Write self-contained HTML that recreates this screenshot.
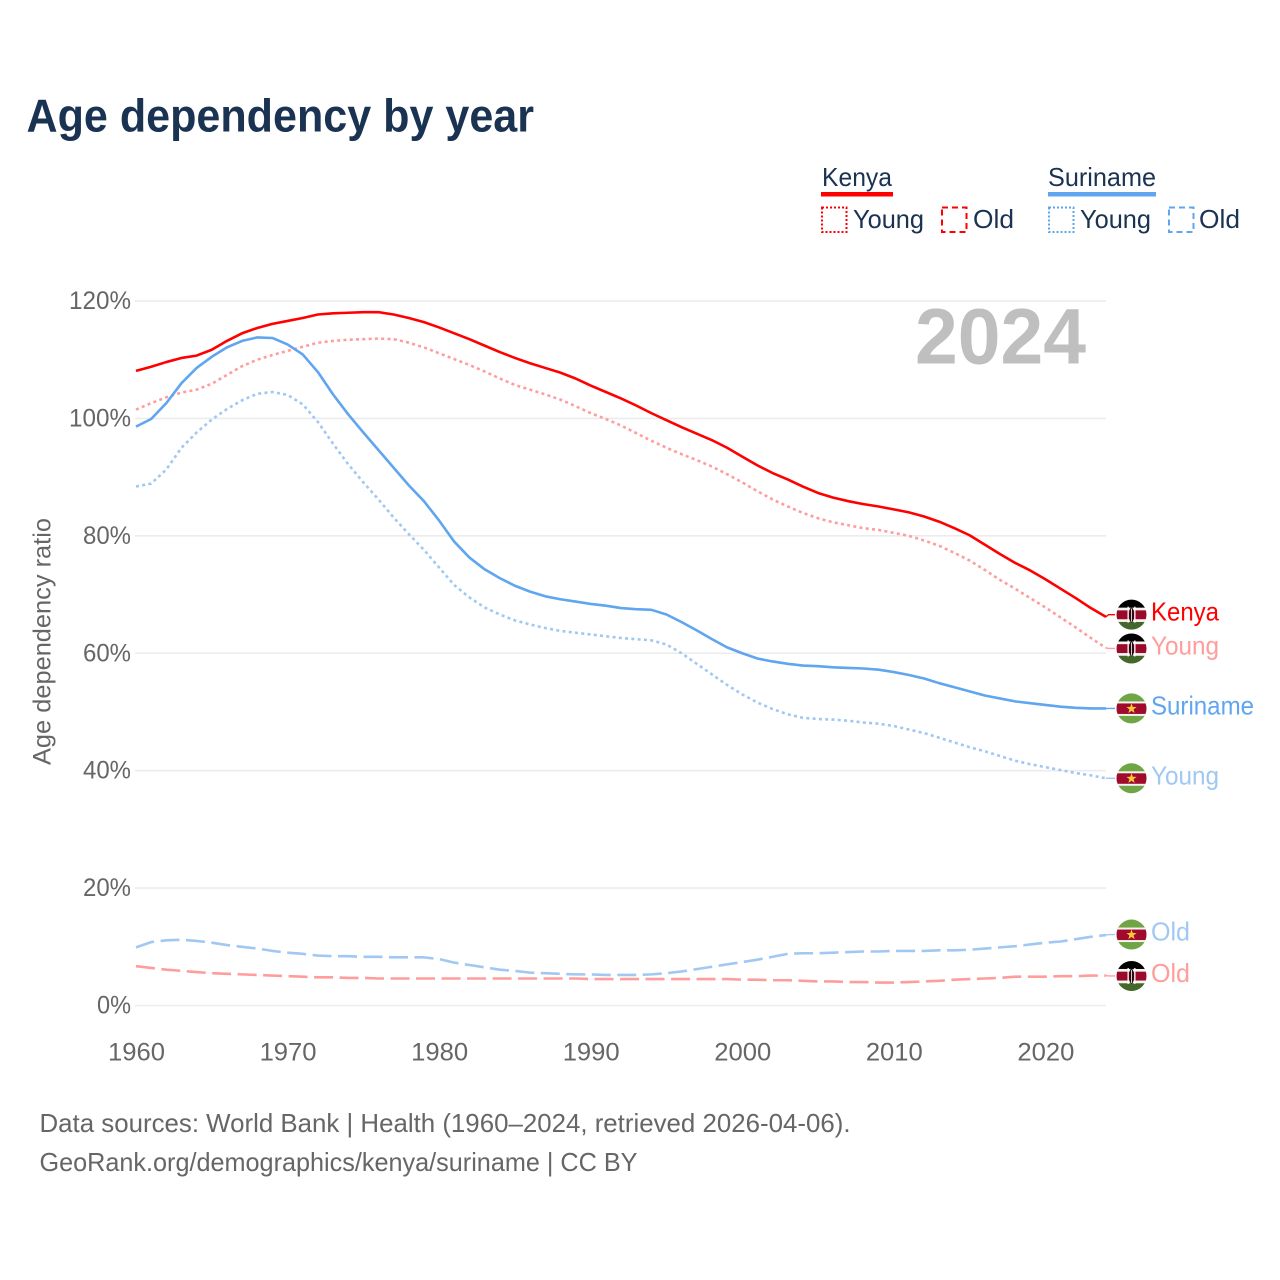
<!DOCTYPE html>
<html lang="en">
<head>
<meta charset="utf-8">
<title>Age dependency by year</title>
<style>
html,body{margin:0;padding:0;background:#fff;}
svg{display:block;font-family:"Liberation Sans",sans-serif;}
</style>
</head>
<body>
<svg id="chart" xmlns="http://www.w3.org/2000/svg" width="1280" height="1280" viewBox="0 0 1280 1280">
  <rect x="0" y="0" width="1280" height="1280" fill="#ffffff"/>
  <text x="26.5" y="131.5" font-size="46" font-weight="700" fill="#1a3352" textLength="507.5" lengthAdjust="spacingAndGlyphs">Age dependency by year</text>

  <g font-size="26" fill="#1a3352">
    <text x="822" y="186" textLength="70" lengthAdjust="spacingAndGlyphs">Kenya</text>
    <rect x="821" y="192" width="72" height="4.5" fill="#ff0000"/>
    <rect x="822" y="207.5" width="24.5" height="24.5" fill="none" stroke="#ff0000" stroke-width="2" stroke-dasharray="2 2"/>
    <text x="853" y="228" textLength="71" lengthAdjust="spacingAndGlyphs">Young</text>
    <rect x="942" y="207.5" width="24.5" height="24.5" fill="none" stroke="#ff0000" stroke-width="2" stroke-dasharray="6 4"/>
    <text x="973" y="228" textLength="41" lengthAdjust="spacingAndGlyphs">Old</text>
    <text x="1048" y="186" textLength="108" lengthAdjust="spacingAndGlyphs">Suriname</text>
    <rect x="1048" y="192" width="108" height="4.5" fill="#5fa5ef"/>
    <rect x="1049" y="207.5" width="24.5" height="24.5" fill="none" stroke="#5fa5ef" stroke-width="2" stroke-dasharray="2 2"/>
    <text x="1080" y="228" textLength="71" lengthAdjust="spacingAndGlyphs">Young</text>
    <rect x="1169" y="207.5" width="24.5" height="24.5" fill="none" stroke="#5fa5ef" stroke-width="2" stroke-dasharray="6 4"/>
    <text x="1199" y="228" textLength="41" lengthAdjust="spacingAndGlyphs">Old</text>
  </g>

  <g id="grid"></g>
  <g id="y-ticks"></g>
  <g id="x-ticks"></g>
  <text transform="translate(50.5,765) rotate(-90)" font-size="25" fill="#666666" textLength="247" lengthAdjust="spacingAndGlyphs">Age dependency ratio</text>
  <text x="915" y="363.5" font-size="79" font-weight="700" fill="#bfbfbf" textLength="171" lengthAdjust="spacingAndGlyphs">2024</text>
  <g id="series"></g>
  <g id="end-labels"></g>

  <text x="39.5" y="1132" font-size="26" fill="#666666" textLength="811" lengthAdjust="spacingAndGlyphs">Data sources: World Bank | Health (1960–2024, retrieved 2026-04-06).</text>
  <text x="39.5" y="1171" font-size="26" fill="#666666" textLength="598" lengthAdjust="spacingAndGlyphs">GeoRank.org/demographics/kenya/suriname | CC BY</text>
</svg>
<script>
const startYear = 1960;
const endYear = 2024;
const yTickValues = [0, 20, 40, 60, 80, 100, 120];
const xTickValues = [1960, 1970, 1980, 1990, 2000, 2010, 2020];

const kenyaTotal = [
  108.1,108.8,109.6,110.3,110.7,111.7,113.2,114.5,115.4,116.1,
  116.6,117.1,117.7,117.9,118.0,118.1,118.1,117.7,117.1,116.4,
  115.5,114.5,113.5,112.4,111.3,110.3,109.4,108.6,107.8,106.8,
  105.6,104.5,103.4,102.2,100.9,99.7,98.5,97.4,96.3,95.0,
  93.5,92.0,90.7,89.6,88.4,87.3,86.5,85.9,85.4,85.0,
  84.5,84.0,83.3,82.4,81.3,80.1,78.5,76.9,75.4,74.1,
  72.6,71.0,69.4,67.7,66.2
];
const kenyaYoung = [
  101.5,102.6,103.6,104.4,104.9,105.9,107.4,108.9,110.0,110.8,
  111.5,112.2,112.9,113.2,113.4,113.5,113.6,113.5,112.9,112.1,
  111.1,110.1,109.1,108.0,106.8,105.7,104.9,104.1,103.2,102.1,
  100.9,99.9,98.8,97.5,96.2,95.0,93.9,92.9,91.8,90.5,
  89.1,87.6,86.2,85.0,83.9,83.0,82.3,81.8,81.3,81.0,
  80.5,80.0,79.2,78.3,77.1,75.8,74.2,72.5,71.0,69.4,
  67.8,66.1,64.4,62.6,60.9
];
const kenyaOld = [
  6.7,6.4,6.1,5.9,5.7,5.5,5.4,5.3,5.2,5.1,
  5.0,4.9,4.8,4.8,4.7,4.7,4.6,4.6,4.6,4.6,
  4.6,4.6,4.6,4.6,4.6,4.6,4.6,4.6,4.6,4.6,
  4.5,4.5,4.5,4.5,4.5,4.5,4.5,4.5,4.5,4.5,
  4.4,4.4,4.3,4.3,4.2,4.1,4.1,4.0,4.0,3.9,
  3.9,4.0,4.1,4.2,4.4,4.5,4.6,4.7,4.9,4.9,
  4.9,5.0,5.0,5.1,5.1
];
const surinameTotal = [
  98.6,99.9,102.6,106.0,108.6,110.5,112.1,113.2,113.8,113.7,
  112.6,110.9,107.9,104.1,100.7,97.6,94.6,91.6,88.6,85.9,
  82.6,79.0,76.3,74.3,72.8,71.5,70.5,69.7,69.2,68.8,
  68.4,68.1,67.7,67.5,67.4,66.6,65.3,63.9,62.4,61.0,
  60.0,59.1,58.6,58.2,57.9,57.8,57.6,57.5,57.4,57.2,
  56.8,56.3,55.7,54.9,54.2,53.5,52.8,52.3,51.8,51.5,
  51.2,50.9,50.7,50.6,50.6
];
const surinameYoung = [
  88.4,88.9,91.3,95.0,97.6,99.8,101.6,103.1,104.2,104.5,
  104.0,102.4,99.4,95.7,92.2,89.1,86.2,83.1,80.3,77.6,
  74.6,71.6,69.5,67.8,66.6,65.6,64.9,64.3,63.8,63.5,
  63.2,62.9,62.6,62.4,62.2,61.5,60.0,58.2,56.4,54.6,
  53.0,51.6,50.5,49.6,49.0,48.8,48.7,48.5,48.2,48.0,
  47.6,47.0,46.4,45.6,44.8,44.0,43.3,42.5,41.7,41.1,
  40.6,40.1,39.6,39.2,38.7
];
const surinameOld = [
  9.9,10.8,11.1,11.2,11.0,10.7,10.3,10.0,9.7,9.3,
  9.0,8.8,8.5,8.4,8.4,8.3,8.3,8.2,8.2,8.2,
  7.9,7.3,6.9,6.5,6.1,5.9,5.6,5.5,5.4,5.3,
  5.3,5.2,5.2,5.2,5.3,5.5,5.8,6.2,6.6,7.0,
  7.4,7.8,8.3,8.8,8.9,8.9,9.0,9.1,9.2,9.2,
  9.3,9.3,9.3,9.4,9.4,9.5,9.7,9.9,10.1,10.4,
  10.7,10.9,11.3,11.7,12.0
];

const x = function (year) { return 136 + (year - startYear) * (1106 - 136) / (endYear - startYear); };
const y = function (value) { return 1005.5 - value * (1005.5 - 301) / 120; };

const NS = 'http://www.w3.org/2000/svg';
function make(tag, attrs, parent, text) {
  const el = document.createElementNS(NS, tag);
  Object.keys(attrs).forEach(function (k) { el.setAttribute(k, attrs[k]); });
  if (text !== undefined) el.textContent = text;
  parent.appendChild(el);
  return el;
}

const gridGroup = document.getElementById('grid');
const yTickGroup = document.getElementById('y-ticks');
yTickValues.forEach(function (v) {
  const line = make('line', { x1: 135, x2: 1106, y1: y(v), y2: y(v), stroke: '#ececec', 'stroke-width': 1.6 }, gridGroup);
  
  
  const label = make('text', { x: 131, y: y(v) + 8, 'font-size': 25, fill: '#666666', 'text-anchor': 'end', textLength: v === 0 ? 34 : (v >= 100 ? 62 : 48), lengthAdjust: 'spacingAndGlyphs' }, yTickGroup, v + '%');
  
  
});

const xTickGroup = document.getElementById('x-ticks');
xTickValues.forEach(function (yr) {
  const label = make('text', { x: x(yr) + 0.5, y: 1060.5, 'font-size': 25, fill: '#666666', 'text-anchor': 'middle', textLength: 57, lengthAdjust: 'spacingAndGlyphs' }, xTickGroup, String(yr));
  
  
});

const RED = '#ff0000', BLUE = '#5fa5ef', LRED = '#ff9d9d', LBLUE = '#a0c8f3';
const DOT = '3 3.3', DASH = '19 6.5';

const seriesList = [
  { id: 'kenya-old', values: kenyaOld, color: LRED, dash: DASH, flag: 'kenya', label: 'Old', dy: 0.4, w: 39 },
  { id: 'suriname-old', values: surinameOld, color: LBLUE, dash: DASH, flag: 'suriname', label: 'Old', dy: -0.5, w: 39 },
  { id: 'suriname-young', values: surinameYoung, color: LBLUE, dash: DOT, flag: 'suriname', label: 'Young', dy: 0, w: 68 },
  { id: 'kenya-young', values: kenyaYoung, color: LRED, dash: DOT, flag: 'kenya', label: 'Young', dy: 0.5, w: 68 },
  { id: 'suriname-total', values: surinameTotal, color: BLUE, dash: null, flag: 'suriname', label: 'Suriname', dy: 0, w: 103 },
  { id: 'kenya-total', values: kenyaTotal, color: RED, dash: null, flag: 'kenya', label: 'Kenya', dy: -2.2, w: 68 }
];

function drawKenyaFlag(g, cx, cy, clipId) {
  const defs = make('clipPath', { id: clipId }, g);
  make('circle', { cx: cx, cy: cy, r: 15 }, defs);
  const f = make('g', { 'clip-path': 'url(#' + clipId + ')' }, g);
  make('rect', { x: cx - 16, y: cy - 16, width: 32, height: 9.5, fill: '#000000' }, f);
  make('rect', { x: cx - 16, y: cy - 7, width: 32, height: 3, fill: '#f4f4f0' }, f);
  make('rect', { x: cx - 16, y: cy - 4.3, width: 32, height: 9, fill: '#9a0a2a' }, f);
  make('rect', { x: cx - 16, y: cy + 4.7, width: 32, height: 2.6, fill: '#f4f4f0' }, f);
  make('rect', { x: cx - 16, y: cy + 7.3, width: 32, height: 9, fill: '#44682c' }, f);
  make('rect', { x: cx - 4, y: cy - 8, width: 1.3, height: 16, fill: '#ffffff' }, f);
  make('rect', { x: cx + 2.7, y: cy - 8, width: 1.3, height: 16, fill: '#ffffff' }, f);
  make('ellipse', { cx: cx, cy: cy + 0.3, rx: 2.5, ry: 7.5, fill: '#2a0a10' }, f);
  make('rect', { x: cx - 0.4, y: cy - 6, width: 0.8, height: 13, fill: '#ffffff' }, f);
}

function drawSurinameFlag(g, cx, cy, clipId) {
  const defs = make('clipPath', { id: clipId }, g);
  make('circle', { cx: cx, cy: cy, r: 15 }, defs);
  const f = make('g', { 'clip-path': 'url(#' + clipId + ')' }, g);
  make('rect', { x: cx - 16, y: cy - 16, width: 32, height: 32, fill: '#6fa544' }, f);
  make('rect', { x: cx - 16, y: cy - 7, width: 32, height: 14.5, fill: '#f4f4f0' }, f);
  make('rect', { x: cx - 16, y: cy - 5, width: 32, height: 10.5, fill: '#a00a2d' }, f);
  const pts = [];
  for (let i = 0; i < 10; i++) {
    const r = i % 2 === 0 ? 5.4 : 2.2;
    const a = -Math.PI / 2 + i * Math.PI / 5;
    pts.push((cx + r * Math.cos(a)).toFixed(2) + ',' + (cy + 0.2 + r * Math.sin(a)).toFixed(2));
  }
  make('polygon', { points: pts.join(' '), fill: '#f7c935' }, f);
}

const seriesGroup = document.getElementById('series');
const labelGroup = document.getElementById('end-labels');
seriesList.forEach(function (s, idx) {
  const d = s.values.map(function (v, i) { return (i ? 'L' : 'M') + x(startYear + i).toFixed(2) + ' ' + y(v).toFixed(2); }).join(' ');
  const attrs = { d: d, fill: 'none', stroke: s.color, 'stroke-width': 2.6, 'stroke-linejoin': 'round' };
  if (s.dash) attrs['stroke-dasharray'] = s.dash;
  const path = make('path', attrs, seriesGroup);
  
  

  const endX = x(endYear);
  const endY = y(s.values[s.values.length - 1]);
  const labelY = endY + s.dy;

  const connector = make('path', { d: 'M' + endX + ' ' + endY + ' L' + (endX + 2.5) + ' ' + labelY + ' L1115 ' + labelY, fill: 'none', stroke: s.color, 'stroke-width': 1.4 }, labelGroup);
  
  

  const flag = make('g', {}, labelGroup);
  
  
  if (s.flag === 'kenya') drawKenyaFlag(flag, 1131.5, labelY, 'clip-' + idx);
  else drawSurinameFlag(flag, 1131.5, labelY, 'clip-' + idx);

  const label = make('text', { x: 1151, y: labelY + 6, 'font-size': 26, fill: s.color, textLength: s.w, lengthAdjust: 'spacingAndGlyphs' }, labelGroup, s.label);
  
  
});
</script>
</body>
</html>
